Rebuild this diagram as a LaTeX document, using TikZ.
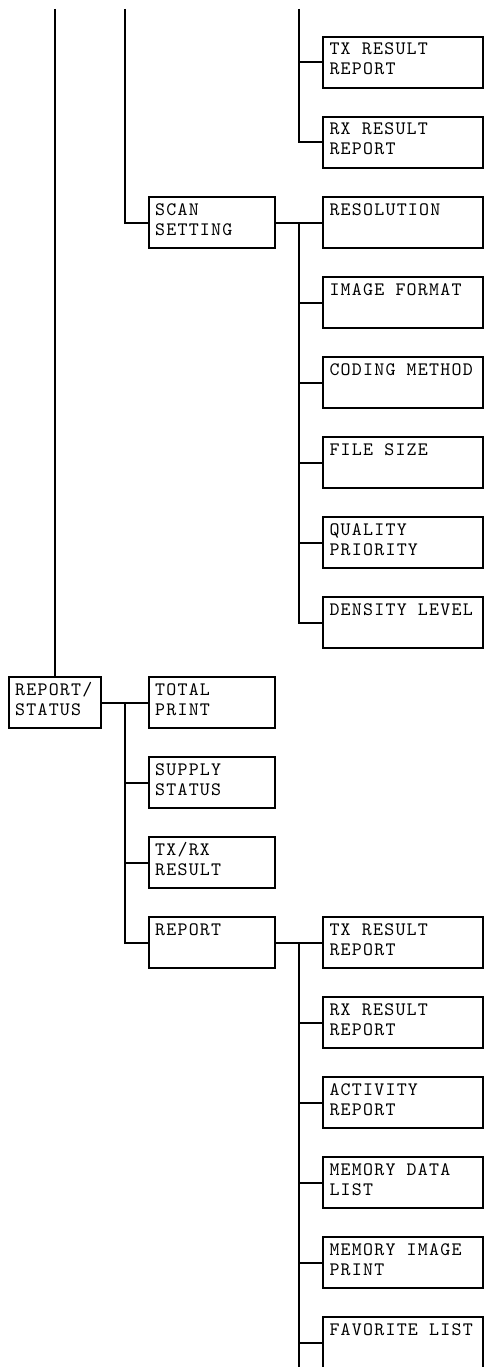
\documentclass[tikz,border=0pt]{standalone}
\usepackage{fontspec}
\newfontfamily\menufont{lmmono10-regular}[Extension = .otf, LetterSpace = 6.5]
\usetikzlibrary{positioning}

\begin{document}
\begin{tikzpicture}[x = 1pt, y = 1pt, node distance = 80pt, on grid, line width = 2pt,
  item/.style={rectangle, draw, align = left, font = \menufont\fontsize{19}{20}\selectfont,
    execute at begin node = {\spaceskip = 11.2pt\relax},
    inner xsep = 6.5pt, inner ysep = 0pt, text height = 18.3pt, text depth = 33.3pt},
  wide/.style={item, text width = 147pt},
  mid/.style={item, text width = 113.3pt},
  narrow/.style={item, text width = 79.3pt}]
  \useasboundingbox (0,0) rectangle (485,-1367);
  \clip (0,0) rectangle (485,-1367);

  % nodes
  \node [wide] (txres) at (403,-62.5) {TX RESULT\\REPORT};
  \node [wide][below = of txres] (rxres) {RX RESULT\\REPORT};
  \node [wide][below = of rxres] (resol) {RESOLUTION};
  \node [wide][below = of resol] (imgfmt) {IMAGE FORMAT};
  \node [wide][below = of imgfmt] (coding) {CODING METHOD};
  \node [wide][below = of coding] (filesize) {FILE SIZE};
  \node [wide][below = of filesize] (quality) {QUALITY\\PRIORITY};
  \node [wide][below = of quality] (density) {DENSITY LEVEL};
  \node [mid][left = 191.2pt of resol] (scan) {SCAN\\SETTING};

  \node [mid][below left = 80pt and 191.2pt of density] (total) {TOTAL\\PRINT};
  \node [narrow][left = 157pt of total] (repstat) {REPORT/\\STATUS};
  \node [mid][below = of total] (supply) {SUPPLY\\STATUS};
  \node [mid][below = of supply] (txrx) {TX/RX\\RESULT};
  \node [mid][below = of txrx] (report) {REPORT};

  \node [wide][right = 191.2pt of report] (txrep) {TX RESULT\\REPORT};
  \node [wide][below = of txrep] (rxrep) {RX RESULT\\REPORT};
  \node [wide][below = of rxrep] (activity) {ACTIVITY\\REPORT};
  \node [wide][below = of activity] (memdata) {MEMORY DATA\\LIST};
  \node [wide][below = of memdata] (memimg) {MEMORY IMAGE\\PRINT};
  \node [wide][below = of memimg] (favlist) {FAVORITE LIST};

  % forks and free ends
  \coordinate [left = 23pt of resol.west] (forkscan);
  \coordinate [left = 23pt of total.west] (forkrep);
  \coordinate [left = 23pt of txrep.west] (forkrpt);
  \coordinate (topA) at (54.8,-9);
  \coordinate (topB) at (125,-9);
  \coordinate (topC) at (299,-9);
  \coordinate (botC) at (299,-1380);

  % edges
  \draw (topA) -- (repstat);
  \draw (topB) |- (scan);
  \draw (topC) |- (rxres);
  \draw (topC |- txres) -- (txres);

  \draw (scan) -- (resol);
  \draw (forkscan) |- (density);
  \foreach \n in {imgfmt, coding, filesize, quality}
    \draw (forkscan |- \n) -- (\n);

  \draw (repstat) -- (total);
  \draw (forkrep) |- (report);
  \foreach \n in {supply, txrx}
    \draw (forkrep |- \n) -- (\n);

  \draw (report) -- (txrep);
  \draw (forkrpt) -- (botC);
  \foreach \n in {rxrep, activity, memdata, memimg, favlist}
    \draw (forkrpt |- \n) -- (\n);
\end{tikzpicture}
\end{document}
